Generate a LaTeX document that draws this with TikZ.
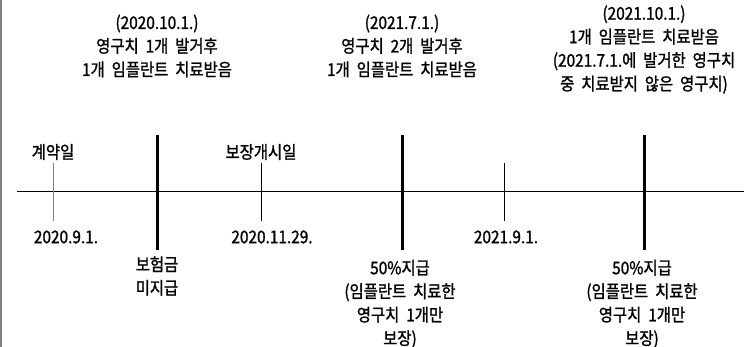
\documentclass[tikz,border=0pt]{standalone}
\usepackage{fontspec}
\newfontfamily\kr[FakeStretch=0.88,FakeBold=1.3,WordSpace=2]{Noto Sans CJK KR}
\begin{document}
\begin{tikzpicture}[x=1pt,y=-1pt,
  lbl/.style={inner sep=0pt,align=center,font=\kr\fontsize{17.5}{23.5}\selectfont},
  thin tick/.style={line width=1pt},
  thick tick/.style={line width=3pt},
  axisline/.style={line width=1pt}]
\useasboundingbox (0,0) rectangle (747,347);
\draw[gray,line width=1.5pt] (0.75,0) -- (0.75,347);
% axis
\coordinate (axL) at (17,192);
\coordinate (axR) at (744,192);
\draw[axisline] (axL) -- (axR);
% ticks
\coordinate (t1a) at (53,163); \coordinate (t1b) at (53,221);
\coordinate (t2a) at (157,135); \coordinate (t2b) at (157,250);
\coordinate (t3a) at (261,163); \coordinate (t3b) at (261,221);
\coordinate (t4a) at (402,135); \coordinate (t4b) at (402,250);
\coordinate (t5a) at (504,163); \coordinate (t5b) at (504,221);
\coordinate (t6a) at (644,135); \coordinate (t6b) at (644,250);
\draw[thin tick,gray] (t1a) -- (t1b);
\draw[thick tick] (t2a) -- (t2b);
\draw[thin tick] (t3a) -- (t3b);
\draw[thick tick] (t4a) -- (t4b);
\draw[thin tick] (t5a) -- (t5b);
\draw[thick tick] (t6a) -- (t6b);
% top texts
\node[lbl] (top1) at (157,46) {(2020.10.1.)\\영구치 1개 발거후\\1개 임플란트 치료받음};
\node[lbl] (top2) at (402,46) {(2021.7.1.)\\영구치 2개 발거후\\1개 임플란트 치료받음};
\node[lbl] (top3) at (644,49.5) {(2021.10.1.)\\1개 임플란트 치료받음\\(2021.7.1.에 발거한 영구치\\중 치료받지 않은 영구치)};
\node[lbl] (c1) at (53,152) {계약일};
\node[lbl] (c2) at (261,152) {보장개시일};
% dates
\node[lbl] (d1) at (66,237) {2020.9.1.};
\node[lbl] (d2) at (272,237) {2020.11.29.};
\node[lbl] (d3) at (506,237) {2021.9.1.};
% bottom
\node[lbl] (b1) at (157,276) {보험금\\미지급};
\node[lbl] (b2) at (400,304) {50\%지급\\(임플란트 치료한\\영구치 1개만\\보장)};
\node[lbl] (b3) at (642,304) {50\%지급\\(임플란트 치료한\\영구치 1개만\\보장)};
\end{tikzpicture}
\end{document}
